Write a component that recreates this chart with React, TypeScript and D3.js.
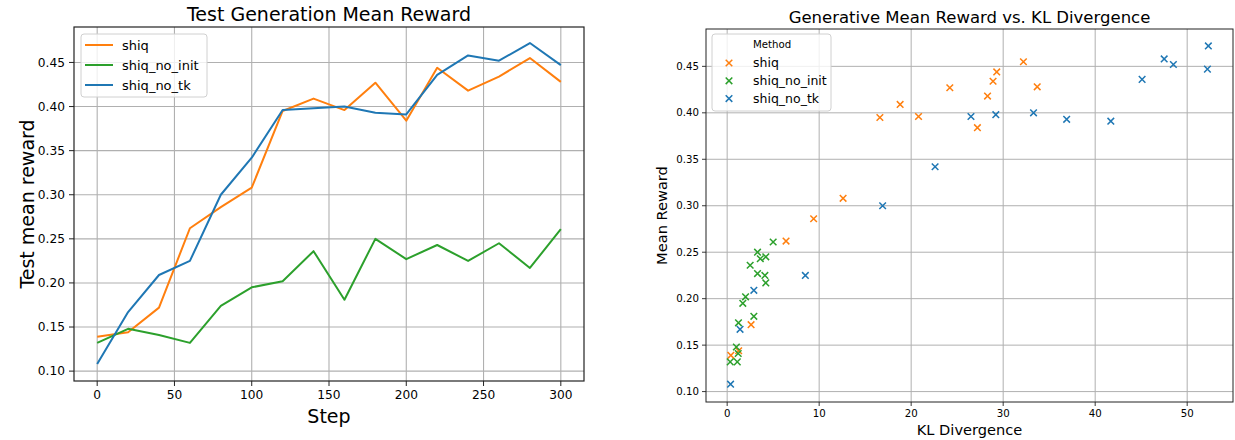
import * as d3 from 'd3';

const steps = [0, 20, 40, 60, 80, 100, 120, 140, 160, 180, 200, 220, 240, 260, 280, 300];

const shiqReward = [0.139, 0.144, 0.172, 0.262, 0.286, 0.308, 0.395, 0.409, 0.396, 0.427, 0.384, 0.444, 0.418, 0.434, 0.455, 0.428];
const noInitReward = [0.132, 0.148, 0.141, 0.132, 0.174, 0.195, 0.202, 0.236, 0.181, 0.250, 0.227, 0.243, 0.225, 0.245, 0.217, 0.261];
const noTkReward = [0.108, 0.167, 0.209, 0.225, 0.300, 0.342, 0.396, 0.398, 0.400, 0.393, 0.391, 0.436, 0.458, 0.452, 0.472, 0.447];

const shiqKL = [0.4, 1.25, 2.6, 6.4, 9.4, 12.6, 16.6, 18.8, 20.8, 24.2, 27.2, 29.3, 28.3, 28.9, 32.2, 33.7];
const noInitKL = [0.33, 1.0, 1.2, 1.1, 1.23, 1.7, 2.0, 2.5, 2.9, 3.3, 3.3, 3.6, 4.1, 4.2, 4.2, 5.0];
const noTkKL = [0.37, 1.4, 2.9, 8.5, 16.9, 22.6, 26.5, 29.2, 33.3, 36.9, 41.7, 45.1, 47.5, 48.5, 52.3, 52.2];

const stepTicks = [0, 50, 100, 150, 200, 250, 300];
const rewardTicks = [0.10, 0.15, 0.20, 0.25, 0.30, 0.35, 0.40, 0.45];
const klTicks = [0, 10, 20, 30, 40, 50];

const methods = ['shiq', 'shiq_no_init', 'shiq_no_tk'];
const colors = ['#ff7f0e', '#2ca02c', '#1f77b4'];
const rewardSets = [shiqReward, noInitReward, noTkReward];
const klSets = [shiqKL, noInitKL, noTkKL];

const FONT = 'DejaVu Sans, sans-serif';
const GRID = '#b0b0b0';

const LeftChart = () => {
  const box = { l: 74, r: 584, t: 27, b: 381 };
  const x = d3.scaleLinear().domain([-15, 315]).range([box.l, box.r]);
  const y = d3.scaleLinear().domain([0.0888, 0.4902]).range([box.b, box.t]);
  const line = d3.line<number>().x((_, i) => x(steps[i])).y(d => y(d));

  return (
    <g>
      {stepTicks.map(t => (
        <g key={'gx' + t}>
          <line x1={x(t)} x2={x(t)} y1={box.t} y2={box.b} stroke={GRID} strokeWidth={1.1} />
          <line x1={x(t)} x2={x(t)} y1={box.b} y2={box.b + 5} stroke="#222" strokeWidth={1} />
          <text x={x(t)} y={box.b + 18} textAnchor="middle" fontSize={12.2} fontFamily={FONT}>{t}</text>
        </g>
      ))}
      {rewardTicks.map(t => (
        <g key={'gy' + t}>
          <line x1={box.l} x2={box.r} y1={y(t)} y2={y(t)} stroke={GRID} strokeWidth={1.1} />
          <line x1={box.l - 5} x2={box.l} y1={y(t)} y2={y(t)} stroke="#222" strokeWidth={1} />
          <text x={box.l - 9} y={y(t) + 4.3} textAnchor="end" fontSize={12.2} fontFamily={FONT}>{t.toFixed(2)}</text>
        </g>
      ))}
      {rewardSets.map((s, i) => (
        <path key={methods[i]} d={line(s) || ''} fill="none" stroke={colors[i]} strokeWidth={2} strokeLinejoin="round" />
      ))}
      <rect x={box.l} y={box.t} width={box.r - box.l} height={box.b - box.t} fill="none" stroke="#222" strokeWidth={1.2} />
      <text x={(box.l + box.r) / 2} y={21} textAnchor="middle" fontSize={19} fontFamily={FONT}>Test Generation Mean Reward</text>
      <text x={(box.l + box.r) / 2} y={423} textAnchor="middle" fontSize={19} fontFamily={FONT}>Step</text>
      <text transform={`translate(34,${(box.t + box.b) / 2}) rotate(-90)`} textAnchor="middle" fontSize={19} fontFamily={FONT}>Test mean reward</text>
      <g>
        <rect x={81} y={34} width={126} height={63} rx={3} fill="white" fillOpacity={0.8} stroke="#d0d0d0" strokeWidth={1} />
        {methods.map((m, i) => (
          <g key={'lg' + m}>
            <line x1={85} x2={113} y1={45 + i * 20} y2={45 + i * 20} stroke={colors[i]} strokeWidth={2} />
            <text x={122} y={45 + i * 20 + 4.6} fontSize={13} fontFamily={FONT}>{m}</text>
          </g>
        ))}
      </g>
    </g>
  );
};

const Cross = ({ cx, cy, color }: { cx: number; cy: number; color: string }) => (
  <path d={`M${cx - 3.3},${cy - 3.3}L${cx + 3.3},${cy + 3.3}M${cx - 3.3},${cy + 3.3}L${cx + 3.3},${cy - 3.3}`} stroke={color} strokeWidth={1.5} fill="none" />
);

const RightChart = () => {
  const box = { l: 706, r: 1233, t: 29, b: 402 };
  const x = d3.scaleLinear().domain([-2.3, 54.98]).range([box.l, box.r]);
  const y = d3.scaleLinear().domain([0.0888, 0.4902]).range([box.b, box.t]);

  return (
    <g>
      {klTicks.map(t => (
        <g key={'rx' + t}>
          <line x1={x(t)} x2={x(t)} y1={box.t} y2={box.b} stroke={GRID} strokeWidth={1} />
          <line x1={x(t)} x2={x(t)} y1={box.b} y2={box.b + 4} stroke="#222" strokeWidth={0.9} />
          <text x={x(t)} y={box.b + 15} textAnchor="middle" fontSize={10.2} fontFamily={FONT}>{t}</text>
        </g>
      ))}
      {rewardTicks.map(t => (
        <g key={'ry' + t}>
          <line x1={box.l} x2={box.r} y1={y(t)} y2={y(t)} stroke={GRID} strokeWidth={1} />
          <line x1={box.l - 4} x2={box.l} y1={y(t)} y2={y(t)} stroke="#222" strokeWidth={0.9} />
          <text x={box.l - 7} y={y(t) + 3.6} textAnchor="end" fontSize={10.2} fontFamily={FONT}>{t.toFixed(2)}</text>
        </g>
      ))}
      {klSets.map((ks, i) =>
        ks.map((k, j) => <Cross key={methods[i] + j} cx={x(k)} cy={y(rewardSets[i][j])} color={colors[i]} />)
      )}
      <rect x={box.l} y={box.t} width={box.r - box.l} height={box.b - box.t} fill="none" stroke="#222" strokeWidth={1} />
      <text x={(box.l + box.r) / 2} y={23} textAnchor="middle" fontSize={16.5} fontFamily={FONT}>Generative Mean Reward vs. KL Divergence</text>
      <text x={(box.l + box.r) / 2} y={435} textAnchor="middle" fontSize={14.6} fontFamily={FONT}>KL Divergence</text>
      <text transform={`translate(667,${(box.t + box.b) / 2}) rotate(-90)`} textAnchor="middle" fontSize={14.6} fontFamily={FONT}>Mean Reward</text>
      <g>
        <rect x={712} y={34} width={119} height={77} rx={3} fill="white" fillOpacity={0.8} stroke="#d0d0d0" strokeWidth={1} />
        <text x={772} y={47.5} textAnchor="middle" fontSize={10.2} fontFamily={FONT}>Method</text>
        {methods.map((m, i) => (
          <g key={'rl' + m}>
            <Cross cx={729} cy={63 + i * 17.8} color={colors[i]} />
            <text x={753} y={63 + i * 17.8 + 4.4} fontSize={12.5} fontFamily={FONT}>{m}</text>
          </g>
        ))}
      </g>
    </g>
  );
};

export default function App() {
  return (
    <svg width={1235} height={440} style={{ position: 'absolute', left: 0, top: 0, background: 'white' }}>
      <rect width={1235} height={440} fill="white" />
      <LeftChart />
      <RightChart />
    </svg>
  );
}
